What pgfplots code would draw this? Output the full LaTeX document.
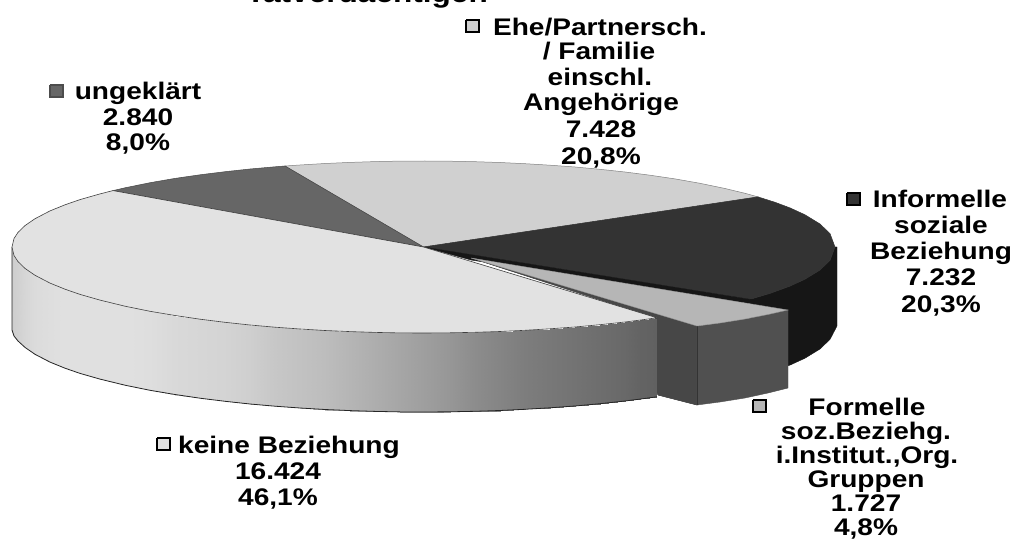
\documentclass[border=0pt]{standalone}
\usepackage{fontspec}
\usepackage{pgfplots}
\pgfplotsset{compat=1.18}
\setmainfont[FakeStretch=1.17]{Liberation Sans}
\definecolor{cKeine}{HTML}{E2E2E2}
\definecolor{cEhe}{HTML}{D0D0D0}
\definecolor{cUng}{HTML}{666666}
\definecolor{cInf}{HTML}{333333}
\definecolor{cInfW}{HTML}{161616}
\definecolor{cForm}{HTML}{B6B6B6}
\definecolor{cFormW}{HTML}{505050}
\definecolor{cFormL}{HTML}{474747}
\tikzset{lab/.style={anchor=base,font=\fontsize{24}{26}\selectfont\bfseries,text=black,inner sep=0pt,outer sep=0pt}}
\begin{document}
\begin{tikzpicture}[x=1pt,y=1pt]
\clip (0,0) rectangle (1015,540);
\begin{axis}[
  at={(0,0)},anchor=south west,
  scale only axis,width=1015pt,height=540pt,
  xmin=0,xmax=1015,ymin=0,ymax=540,y dir=reverse,
  hide axis,clip=false,no marks,
  colormap/blackwhite,point meta min=0,point meta max=1,
]
% Informelle wall
\addplot[fill=cInfW,draw=cInfW] coordinates {(750,299.3)(770,293.4)(790,286.1)(805,279.2)(820,270)(830,260.4)(835,247)(837,247)(837,326)(830,339.4)(820,349)(805,358.2)(790,365.1)(770,372.4)(750,378.3)(750,299.3)};
% Formelle inner wall (behind the Keine wall end)
\addplot[fill=cFormL,draw=cFormL] coordinates {(471,258)(697,326)(697,405)(658,395)(655,390)(655,318)(471,258)};
% Keine wall
\addplot[surf,shader=interp,mesh/rows=2,point meta=explicit] table[x=x,y=y,meta=c] {
x y c
12 247 0.80
14 255.5 0.81
18 261.6 0.82
25 268.4 0.84
35 275.3 0.86
50 283.1 0.87
65 289.2 0.88
80 294.4 0.88
100 300.1 0.88
125 306.2 0.88
150 311.3 0.87
175 315.5 0.85
200 319.2 0.84
225 322.3 0.83
250 325 0.81
275 327.2 0.78
300 329 0.76
325 330.5 0.74
350 331.6 0.71
375 332.4 0.68
400 332.9 0.65
425 333 0.62
450 332.8 0.59
475 332.3 0.55
500 331.5 0.52
525 330.3 0.49
550 328.8 0.47
575 327 0.45
600 324.7 0.43
625 322 0.41
640 320.1 0.39
657 317.8 0.38
12 330 0.80
14 336 0.81
18 341 0.82
25 347.4 0.84
35 354.3 0.86
50 362.1 0.87
65 368.2 0.88
80 373.4 0.88
100 379.1 0.88
125 385.2 0.88
150 390.3 0.87
175 394.5 0.85
200 398.2 0.84
225 401.3 0.83
250 404 0.81
275 406.2 0.78
300 408 0.76
325 409.5 0.74
350 410.6 0.71
375 411.4 0.68
400 411.9 0.65
425 412 0.62
450 411.8 0.59
475 411.3 0.55
500 410.5 0.52
525 409.3 0.49
550 407.8 0.47
575 406 0.45
600 403.7 0.43
625 401 0.41
640 399.1 0.39
657 396.8 0.38
};
% Keine wall lower outline
\addplot[draw=black!85,line width=0.8pt] coordinates {(12,247)(12,330)(14,336)(18,341)(25,347.4)(35,354.3)(50,362.1)(65,368.2)(80,373.4)(100,379.1)(125,385.2)(150,390.3)(175,394.5)(200,398.2)(225,401.3)(250,404)(275,406.2)(300,408)(325,409.5)(350,410.6)(375,411.4)(400,411.9)(425,412)(450,411.8)(475,411.3)(500,410.5)(525,409.3)(550,407.8)(575,406)(600,403.7)(625,401)(640,399.1)(657,396.8)};
% Ehe top
\addplot[fill=cEhe,draw=gray,line width=0.5pt] coordinates {(423.5,247)(285,166)(300,165)(325,163.5)(350,162.4)(375,161.6)(400,161.1)(425,161)(450,161.2)(475,161.7)(500,162.5)(525,163.7)(550,165.2)(575,167)(600,169.3)(625,172)(650,175.2)(675,178.9)(700,183.3)(725,188.5)(745,193.3)(758,196.9)(423.5,247)};
% ungeklaert top
\addplot[fill=cUng,draw=cUng!70!black,line width=0.5pt] coordinates {(423.5,247)(113,190.6)(125,187.8)(150,182.7)(175,178.4)(200,174.8)(225,171.7)(250,169)(275,166.8)(285,166)(423.5,247)};
% Informelle top
\addplot[fill=cInf,draw=cInf,line width=0.5pt] coordinates {(423.5,247)(758,196.9)(775,202.3)(790,207.9)(805,214.8)(820,224)(830,233.6)(835,247)(830,260.4)(820,270)(805,279.2)(790,286.1)(770,293.4)(750,299.3)(423.5,247)};
% dark gap between Informelle and the pulled-out slice
\addplot[fill=cInfW,draw=cInfW] coordinates {(423.5,247)(750,299.3)(790,310)(471,260)(423.5,247)};
% Formelle inner wall upper part and front wall
\addplot[fill=cFormL,draw=cFormL] coordinates {(471,258)(697,326)(697,405)(658,395)(658,318)(471,258)};
\addplot[fill=cFormW,draw=cFormW] coordinates {(697,326)(720,323)(745,319)(768,314.5)(788,310)(788,388)(768,393)(745,398)(720,402)(697,405)(697,326)};
\addplot[draw=black!80,line width=0.5pt] coordinates {(697,326)(697,405)};
% Formelle top
\addplot[fill=cForm,draw=cForm!80!black,line width=0.4pt] coordinates {(471,258)(788,310)(768,314.5)(745,319)(720,323)(697,326)(471,258)};
% Keine top
\addplot[fill=cKeine,draw=black!75,line width=0.6pt] coordinates {(423.5,247)(113,190.6)(100,193.9)(80,199.6)(65,204.8)(50,210.9)(35,218.7)(25,225.6)(18,232.4)(14,238.5)(12,247)(14,255.5)(18,261.6)(25,268.4)(35,275.3)(50,283.1)(65,289.2)(80,294.4)(100,300.1)(125,306.2)(150,311.3)(175,315.5)(200,319.2)(225,322.3)(250,325)(275,327.2)(300,329)(325,330.5)(350,331.6)(375,332.4)(400,332.9)(425,333)(450,332.8)(475,332.3)(500,331.5)(525,330.3)(550,328.8)(575,327)(600,324.7)(625,322)(640,320.1)(657,317.8)(423.5,247)};
% Legend keys
\addplot[fill=cEhe,draw=black,line width=1.6pt] coordinates {(466,20)(479,20)(479,32)(466,32)(466,20)};
\addplot[fill=cUng,draw=black!70,line width=1.6pt] coordinates {(50,85)(63,85)(63,97)(50,97)(50,85)};
\addplot[fill=cInf,draw=black,line width=1.6pt] coordinates {(847,193)(860,193)(860,205)(847,205)(847,193)};
\addplot[fill=cForm,draw=black,line width=1.6pt] coordinates {(753,400)(766,400)(766,412)(753,412)(753,400)};
\addplot[fill=cKeine,draw=black,line width=1.6pt] coordinates {(157,438)(170,438)(170,450)(157,450)(157,438)};
% Labels
\node[lab,font=\fontsize{27}{28}\selectfont\bfseries] at (axis cs:367,3) {Tatverdächtigen};
\node[lab] at (axis cs:600,36) {Ehe/Partnersch.};
\node[lab] at (axis cs:599,60) {/ Familie};
\node[lab] at (axis cs:600,86) {einschl.};
\node[lab] at (axis cs:601,111) {Angehörige};
\node[lab] at (axis cs:601,138) {7.428};
\node[lab] at (axis cs:601,165) {20,8\%};
\node[lab] at (axis cs:138,100) {ungeklärt};
\node[lab] at (axis cs:138,126) {2.840};
\node[lab] at (axis cs:138,151) {8,0\%};
\node[lab] at (axis cs:940,208) {Informelle};
\node[lab] at (axis cs:941,234) {soziale};
\node[lab] at (axis cs:941,260) {Beziehung};
\node[lab] at (axis cs:941,286) {7.232};
\node[lab] at (axis cs:941,312) {20,3\%};
\node[lab] at (axis cs:867,415) {Formelle};
\node[lab] at (axis cs:866,439) {soz.Beziehg.};
\node[lab] at (axis cs:867,463) {i.Institut.,Org.};
\node[lab] at (axis cs:866,487) {Gruppen};
\node[lab] at (axis cs:866,511) {1.727};
\node[lab] at (axis cs:866,535) {4,8\%};
\node[lab] at (axis cs:289,453) {keine Beziehung};
\node[lab] at (axis cs:278,479) {16.424};
\node[lab] at (axis cs:278,505) {46,1\%};
\end{axis}
\end{tikzpicture}
\end{document}
